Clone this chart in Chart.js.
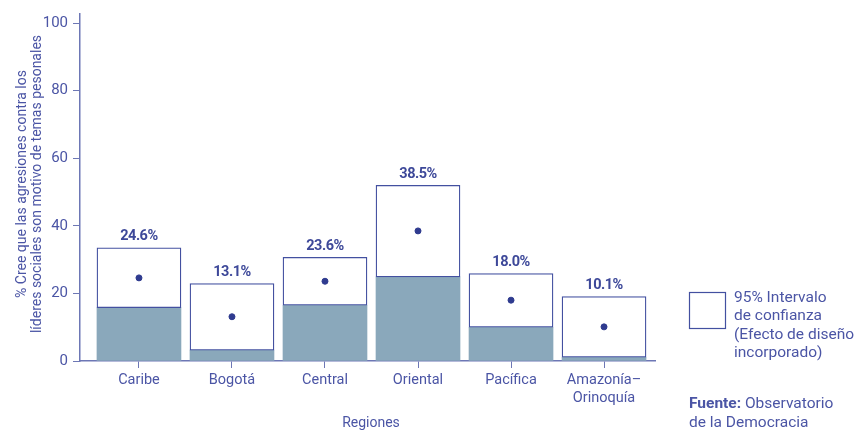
<!DOCTYPE html>
<html><head><meta charset="utf-8">
<script src="https://cdn.jsdelivr.net/npm/chart.js@4/dist/chart.umd.min.js"></script>
<style>html,body{margin:0;padding:0;background:#fff}#w{width:861px;height:435px}</style>
</head><body><div id="w"><canvas id="c" width="861" height="435"></canvas></div>
<script>
const categories = ['Caribe', 'Bogotá', 'Central', 'Oriental', 'Pacífica', ['Amazonía–', 'Orinoquía']];
const estimates = [24.6, 13.1, 23.6, 38.5, 18.0, 10.1];
const lowerCI = [15.8, 3.2, 16.5, 24.9, 10.0, 1.1];
const upperCI = [33.5, 22.9, 30.7, 52.0, 25.9, 19.1];
const yTicks = [0, 20, 40, 60, 80, 100];

const TXT = '#4b55a5', AX = '#6d77b5', BOX = '#4350a0', FILL = '#8aa8bb', DOT = '#2f3b8f';
const FONT = 'Roboto, "Liberation Sans", sans-serif';

const extras = {
  id: 'extras',
  afterDatasetsDraw(chart) {
    const ctx = chart.ctx, x = chart.scales.x, y = chart.scales.y;
    ctx.save();
    ctx.fillStyle = '#3d4899';
    ctx.font = 'bold 14.5px ' + FONT;
    ctx.letterSpacing = '-0.5px';
    ctx.textAlign = 'center'; ctx.textBaseline = 'middle';
    estimates.forEach((v, i) => {
      ctx.fillText(v.toFixed(1) + '%', x.getPixelForValue(i), y.getPixelForValue(upperCI[i]) - 11);
    });
    ctx.letterSpacing = '0px';
    ctx.fillStyle = TXT;
    ctx.font = '14px ' + FONT;
    ctx.fillText('Regiones', 371, 423);
    ctx.save();
    ctx.translate(22, 184); ctx.rotate(-Math.PI / 2);
    ctx.fillText('% Cree que las agresiones contra los', 0, 0);
    ctx.fillText('líderes sociales son motivo de temas pesonales', 0, 15);
    ctx.restore();
    ctx.strokeStyle = BOX; ctx.lineWidth = 1.2;
    ctx.strokeRect(689.5, 292.5, 36, 36);
    ctx.font = '15.5px ' + FONT;
    ctx.textAlign = 'left';
    ['95% Intervalo', 'de confianza', '(Efecto de diseño', 'incorporado)'].forEach((t, i) => {
      ctx.fillText(t, 734, 298 + i * 18.5);
    });
    ctx.font = 'bold 15.5px ' + FONT;
    ctx.fillText('Fuente:', 689, 404);
    const w = ctx.measureText('Fuente: ').width;
    ctx.font = '15.5px ' + FONT;
    ctx.fillText('Observatorio', 689 + w, 404);
    ctx.fillText('de la Democracia', 689, 423);
    ctx.restore();
  }
};

new Chart(document.getElementById('c'), {
  type: 'bar',
  data: {
    datasets: [
      { type: 'bar', data: lowerCI.map((v, i) => ({ x: i, y: [0, v] })), backgroundColor: FILL, borderWidth: 0, barThickness: 84, grouped: false, order: 3 },
      { type: 'bar', data: lowerCI.map((v, i) => ({ x: i, y: [v, upperCI[i]] })), backgroundColor: '#ffffff', borderColor: BOX, borderWidth: 1.3, borderSkipped: false, barThickness: 84, grouped: false, order: 2 },
      { type: 'scatter', data: estimates.map((v, i) => ({ x: i, y: v })), backgroundColor: DOT, borderColor: DOT, pointRadius: 3, order: 1 }
    ]
  },
  options: {
    responsive: false, animation: false,
    layout: { padding: { left: 0, right: 206, top: 14, bottom: 0 } },
    plugins: { legend: { display: false }, tooltip: { enabled: false } },
    scales: {
      x: {
        type: 'linear', min: -0.634, max: 5.548, offset: false,
        afterBuildTicks: s => { s.ticks = categories.map((c, i) => ({ value: i })); },
        afterFit: s => { s.height = 74; },
        grid: { display: true, offset: false, drawOnChartArea: false, drawTicks: true, tickLength: 7, color: AX, lineWidth: 1 },
        border: { display: true, color: AX, width: 1.5 },
        ticks: { color: TXT, font: { family: FONT, size: 14.5 }, padding: 4, maxRotation: 0, autoSkip: false, callback: (v) => categories[v] }
      },
      y: {
        min: 0, max: 102.7,
        afterBuildTicks: s => { s.ticks = yTicks.map(v => ({ value: v })); },
        afterFit: s => { s.width = 80; },
        grid: { display: true, drawOnChartArea: false, drawTicks: true, tickLength: 7, color: AX, lineWidth: 1 },
        border: { display: true, color: AX, width: 1.5 },
        ticks: { color: TXT, font: { family: FONT, size: 15 }, padding: 5 }
      }
    }
  },
  plugins: [extras]
});
</script></body></html>
